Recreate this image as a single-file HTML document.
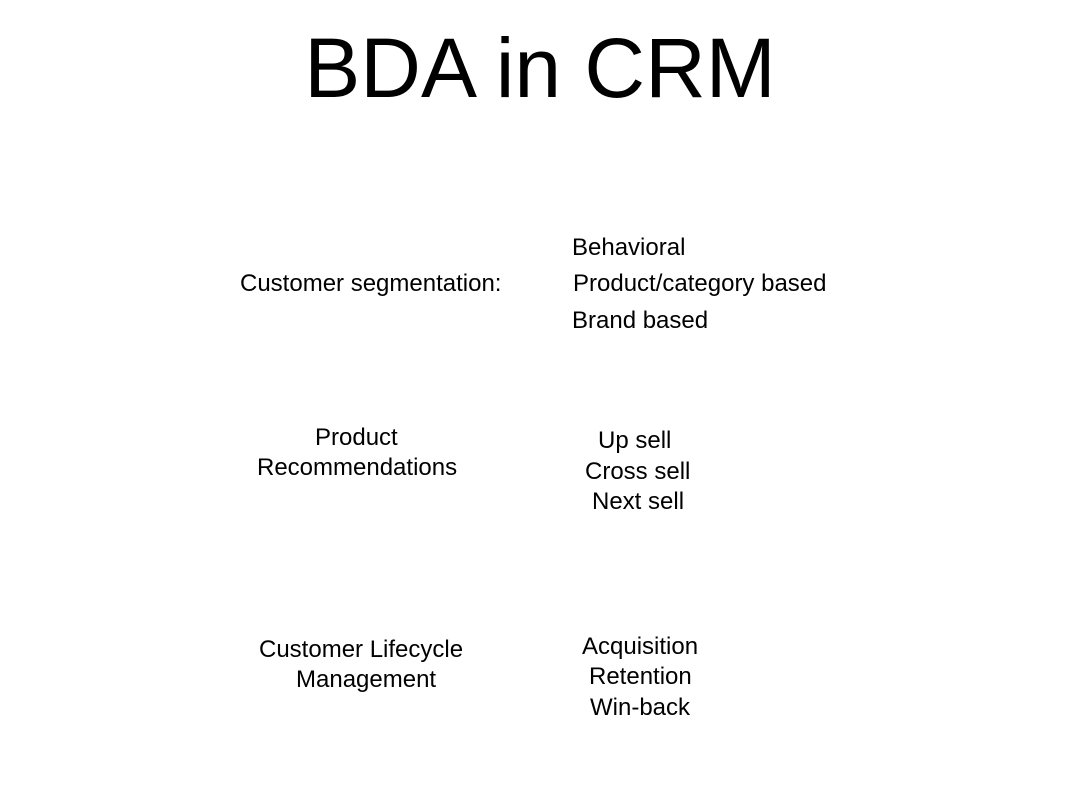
<!DOCTYPE html>
<html><head><meta charset="utf-8"><style>
html,body{margin:0;padding:0;background:#fff;}
body{width:1080px;height:810px;position:relative;overflow:hidden;font-family:"Liberation Sans",Arial,sans-serif;color:#000;}
.t{position:absolute;font-size:24px;line-height:1;white-space:nowrap;}
h1{position:absolute;left:0;width:1080px;text-align:center;top:26px;margin:0;font-weight:normal;font-size:84px;line-height:1;}
</style></head><body>
<h1>BDA in CRM</h1>
<div class="t" style="left:572px;top:236px">Behavioral</div>
<div class="t" style="left:240px;top:272px">Customer segmentation:</div>
<div class="t" style="left:573px;top:272px">Product/category based</div>
<div class="t" style="left:572px;top:309px">Brand based</div>
<div class="t" style="left:315px;top:426px">Product</div>
<div class="t" style="left:257px;top:456px">Recommendations</div>
<div class="t" style="left:598px;top:429px">Up sell</div>
<div class="t" style="left:585px;top:460px">Cross sell</div>
<div class="t" style="left:592px;top:490px">Next sell</div>
<div class="t" style="left:259px;top:638px">Customer Lifecycle</div>
<div class="t" style="left:296px;top:668px">Management</div>
<div class="t" style="left:582px;top:635px">Acquisition</div>
<div class="t" style="left:589px;top:665px">Retention</div>
<div class="t" style="left:590px;top:696px">Win-back</div>
</body></html>
